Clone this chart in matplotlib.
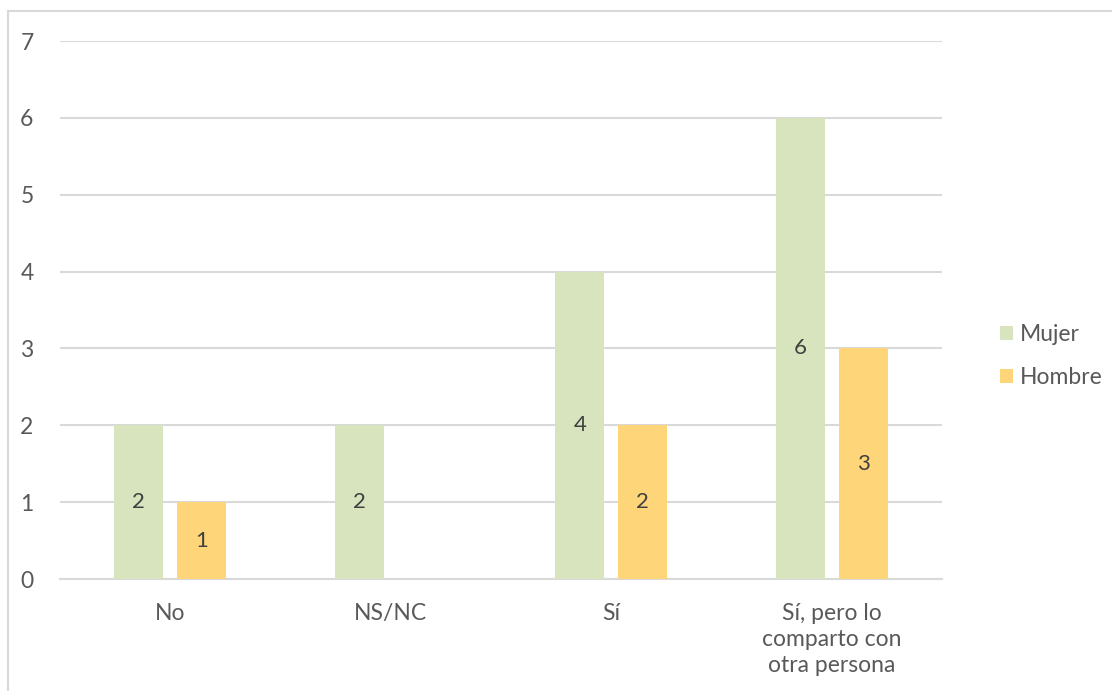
import numpy as np
import matplotlib.pyplot as plt
from matplotlib.lines import Line2D

categories = ['No', 'NS/NC', 'Sí', 'Sí, pero lo\ncomparto con\notra persona']
mujer = [2, 2, 4, 6]
hombre = [1, np.nan, 2, 3]
yticks = [0, 1, 2, 3, 4, 5, 6, 7]

green = '#D7E4BD'
yellow = '#FFD579'
text_gray = '#595959'
grid_gray = '#D9D9D9'

plt.rcParams['font.family'] = ['Lato', 'DejaVu Sans']

fig = plt.figure(figsize=(11.12, 6.91), dpi=100)
ax = fig.add_axes([60 / 1112, 1 - 579 / 691, 882 / 1112, 538 / 691])

x = np.arange(len(categories))
width = 0.222
offset = 0.143

bars_m = ax.bar(x - offset, mujer, width, color=green, label='Mujer', zorder=3)
bars_h = ax.bar(x + offset, hombre, width, color=yellow, label='Hombre', zorder=3)

for bars, vals in ((bars_m, mujer), (bars_h, hombre)):
    for b, v in zip(bars, vals):
        if np.isnan(v):
            continue
        ax.text(b.get_x() + b.get_width() / 2, v / 2, f'{v:g}',
                ha='center', va='center', fontsize=16, color='#404040', zorder=4)

ax.set_xlim(-0.5, len(categories) - 0.5)
ax.set_ylim(0, 7)
ax.set_yticks(yticks)
ax.set_xticks(x)
ax.set_xticklabels(categories, fontsize=16.5, color=text_gray, linespacing=1.32)
ax.tick_params(axis='y', labelsize=16.5, labelcolor=text_gray, length=0, pad=19)
ax.tick_params(axis='x', length=0, pad=17)

ax.grid(axis='y', color=grid_gray, linewidth=1.5, zorder=0)
for s in ['top', 'right', 'left']:
    ax.spines[s].set_visible(False)
ax.spines['bottom'].set_color(grid_gray)
ax.spines['bottom'].set_linewidth(1.5)

leg = fig.legend(loc='center left', bbox_to_anchor=(979 / 1112, 1 - 356 / 691),
                 frameon=False, fontsize=16.5, handlelength=0.6, handleheight=0.6,
                 handletextpad=0.3, labelspacing=0.95)
for t in leg.get_texts():
    t.set_color(text_gray)

# chart area border (only left and top edges are visible in the crop)
fig.add_artist(Line2D([8 / 1112, 8 / 1112], [0, 1 - 11 / 691], color=grid_gray, lw=1.5))
fig.add_artist(Line2D([8 / 1112, 1], [1 - 11 / 691, 1 - 11 / 691], color=grid_gray, lw=1.5))

fig.savefig('out.png', dpi=100)
